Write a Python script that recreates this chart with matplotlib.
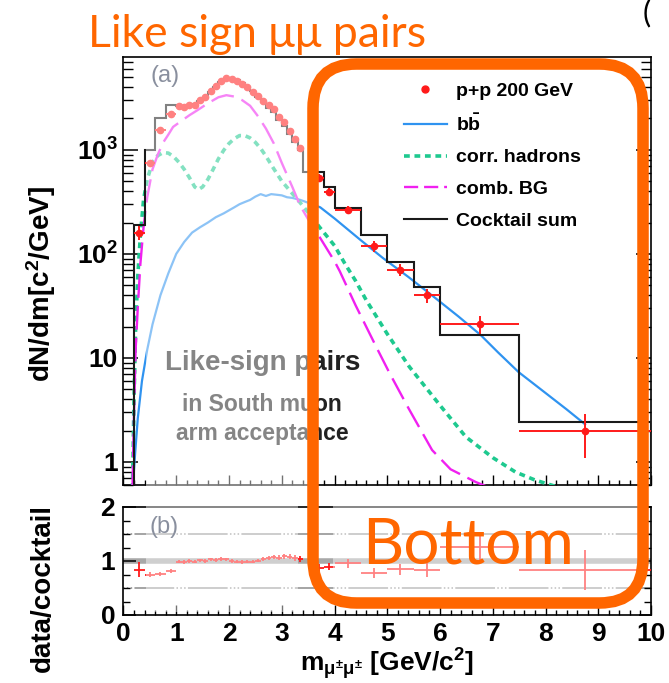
import matplotlib.pyplot as plt
import numpy as np
from matplotlib.lines import Line2D
from matplotlib.patches import Rectangle, FancyBboxPatch
from matplotlib.ticker import MultipleLocator, LogLocator, FuncFormatter, NullFormatter

plt.rcParams['font.family'] = 'Liberation Sans'
plt.rcParams['font.weight'] = 'bold'
plt.rcParams['axes.labelweight'] = 'bold'
plt.rcParams['mathtext.fontset'] = 'custom'
plt.rcParams['mathtext.rm'] = 'Liberation Sans:bold'
plt.rcParams['mathtext.it'] = 'Liberation Sans:bold'
plt.rcParams['mathtext.bf'] = 'Liberation Sans:bold'

# cocktail sum, dN/dm per mass bin
ck_edges = [0.2, 0.4, 0.6, 0.8, 1.0, 1.1, 1.2, 1.3, 1.4, 1.5, 1.6, 1.7, 1.8, 1.9, 2.0,
            2.1, 2.2, 2.3, 2.4, 2.5, 2.6, 2.7, 2.8, 2.9, 3.0, 3.1, 3.2, 3.3, 3.4,
            3.8, 4.0, 4.5, 5.0, 5.5, 6.0, 7.5, 10.0]
ck_vals = [190, 1000, 2040, 2700,
           2650, 2650, 2700, 2750, 2950, 3250, 3600, 4000, 4450, 4750, 4800, 4650,
           4400, 4050, 3650, 3250, 2850, 2550, 2300, 1950, 1700, 1420, 1200, 1000,
           615, 440, 277, 152, 83, 48, 16.6, 2.4]

# p+p 200 GeV like-sign data
data_m = [0.3, 0.5, 0.7, 0.9,
          1.05, 1.15, 1.25, 1.35, 1.45, 1.55, 1.65, 1.75, 1.85, 1.95, 2.05, 2.15,
          2.25, 2.35, 2.45, 2.55, 2.65, 2.75, 2.85, 2.95, 3.05, 3.15, 3.25, 3.35,
          3.7, 3.9, 4.25, 4.75, 5.25, 5.75, 6.75, 8.75]
data_y = [160, 750, 1550, 2200,
          2620, 2600, 2700, 2720, 2980, 3250, 3710, 4080, 4630, 4890, 4800, 4600,
          4310, 4010, 3610, 3280, 2940, 2680, 2460, 2070, 1850, 1530, 1270, 1030,
          540, 395, 265, 119, 70, 40, 21, 2.0]
data_xerr = [0.1, 0.1, 0.1, 0.1] + [0.05] * 24 + [0.1, 0.1, 0.25, 0.25, 0.25, 0.25, 0.75, 1.25]
data_yerr = [25, 40, 60, 80,
             90, 90, 95, 95, 100, 110, 120, 130, 140, 150, 150, 145,
             140, 130, 120, 110, 100, 95, 90, 80, 75, 65, 60, 55,
             40, 30, 22, 14, 9, 6, 4, 0.9]

# b-bbar
bb_m = [0.18, 0.22, 0.27, 0.35, 0.45, 0.55, 0.7, 0.85, 1.0, 1.15, 1.3, 1.45, 1.6, 1.75,
        1.9, 2.0, 2.1, 2.2, 2.3, 2.4, 2.5, 2.6, 2.7, 2.8, 2.9, 3.0, 3.1, 3.2, 3.35, 3.5,
        3.73, 4.0, 4.5, 4.92, 5.4, 5.9, 6.35, 6.77, 7.1, 7.49, 8.0, 8.4, 8.75]
bb_y = [0.6, 1.2, 2.6, 6, 12, 21, 40, 65, 100, 130, 160, 180, 200, 225,
        245, 262, 280, 300, 315, 330, 355, 375, 360, 375, 370, 365, 350, 345, 330, 310,
        280, 219, 135, 91, 60, 38, 25, 16.6, 11.3, 7.3, 4.6, 3.2, 2.3]

# correlated hadrons
had_m = [0.17, 0.2, 0.23, 0.27, 0.32, 0.38, 0.45, 0.55, 0.65, 0.75, 0.85, 0.95, 1.05,
         1.15, 1.25, 1.35, 1.42, 1.5, 1.6, 1.7, 1.8, 1.9, 2.0, 2.1, 2.2, 2.3, 2.4, 2.5,
         2.6, 2.7, 2.83, 3.0, 3.2, 3.35, 3.5, 3.7, 4.0, 4.2, 4.4, 4.6, 5.0, 5.42, 6.0,
         6.49, 7.0, 7.43, 7.8, 8.2]
had_y = [0.55, 4, 20, 60, 150, 330, 520, 760, 880, 940, 930, 860, 760,
         650, 540, 440, 415, 440, 520, 650, 820, 990, 1150, 1280, 1370, 1370, 1300, 1180,
         1030, 870, 680, 500, 380, 310, 250, 185, 120, 80, 55, 36, 17, 8.2, 3.5,
         1.74, 1.1, 0.8, 0.67, 0.58]

# combinatorial background
bg_m = [0.17, 0.2, 0.23, 0.27, 0.32, 0.38, 0.45, 0.55, 0.65, 0.75, 0.85, 0.94, 1.1,
        1.25, 1.4, 1.6, 1.8, 1.95, 2.1, 2.25, 2.4, 2.55, 2.7, 2.85, 3.0, 3.2, 3.35,
        3.5, 3.7, 4.0, 4.1, 4.4, 4.8, 5.04, 5.4, 5.85, 6.2, 6.68, 7.0]
bg_y = [0.55, 3, 12, 30, 80, 180, 350, 650, 900, 1170, 1400, 1660, 1900,
        2150, 2400, 2800, 3200, 3350, 3250, 3000, 2650, 2100, 1600, 1150, 750, 440, 290,
        215, 150, 85, 68, 32, 12.5, 7.2, 3.3, 1.3, 0.85, 0.64, 0.55]

red = '#ff1a1a'
blue = '#2f93f0'
teal = '#1ec98f'
magenta = '#f020f0'
orange = '#ff6600'

W, H = 669, 683
fig = plt.figure(figsize=(W / 100, H / 100), dpi=100)


def fx(x):
    return x / W


def fy(y):
    return 1 - y / H


ax = fig.add_axes([fx(123.5), fy(485), (651 - 123.5) / W, (485 - 57) / H])
axr = fig.add_axes([fx(123.5), fy(615), (651 - 123.5) / W, (615 - 507) / H])

# ---- (a) spectrum ----
ax.plot(bb_m, bb_y, color=blue, lw=1.6, zorder=3)
ax.plot(had_m, had_y, color=teal, lw=2.6, dashes=(1.6, 1.3), zorder=3)
ax.plot(bg_m, bg_y, color=magenta, lw=1.7, dashes=(10, 3.5), zorder=3)
ax.stairs(ck_vals, ck_edges, baseline=1e-3, color='#1a1a1a', lw=1.5, zorder=4)
ax.errorbar(data_m, data_y, xerr=data_xerr, yerr=data_yerr, fmt='o', ms=4.5,
            color=red, elinewidth=1.4, capsize=0, zorder=5)

ax.set_yscale('log')
ax.set_xlim(0, 10)
ax.set_ylim(0.6, 7800)


def ylab(v, pos):
    if v == 1:
        return '1'
    if v == 10:
        return '10'
    return r'$10^{%d}$' % round(np.log10(v))


ax.yaxis.set_major_locator(LogLocator(base=10, numticks=10))
ax.yaxis.set_minor_locator(LogLocator(base=10, subs=np.arange(2, 10), numticks=20))
ax.yaxis.set_major_formatter(FuncFormatter(ylab))
ax.yaxis.set_minor_formatter(NullFormatter())
ax.xaxis.set_major_locator(MultipleLocator(1))
ax.xaxis.set_minor_locator(MultipleLocator(0.2))
ax.xaxis.set_major_formatter(NullFormatter())
ax.tick_params(axis='y', which='both', direction='in', left=True, right=True, labelsize=19, pad=4)
ax.tick_params(axis='y', which='major', length=11, width=1.1)
ax.tick_params(axis='y', which='minor', length=7, width=1.0)
ax.tick_params(axis='x', which='both', direction='in', top=False, bottom=True)
ax.tick_params(axis='x', which='major', length=7, width=1.0)
ax.tick_params(axis='x', which='minor', length=3.5, width=1.0)
ax.set_ylabel(r'dN/dm[c$^{2}$/GeV]', fontsize=20)
ax.yaxis.set_label_coords(-0.125, 0.47)
for s in ax.spines.values():
    s.set_linewidth(1.2)

ax.text(0.079, 0.955, '(a)', transform=ax.transAxes, fontsize=17, fontweight='normal',
        color='#2a3550', ha='center', va='center')
ax.text(0.263, 0.285, 'Like-sign pairs', transform=ax.transAxes, fontsize=20,
        color='#222222', ha='center', va='center')
ax.text(0.263, 0.187, 'in South muon', transform=ax.transAxes, fontsize=16.5,
        color='#222222', ha='center', va='center')
ax.text(0.263, 0.121, 'arm acceptance', transform=ax.transAxes, fontsize=16.5,
        color='#222222', ha='center', va='center')

handles = [
    Line2D([], [], color=red, marker='o', ms=5, ls='none'),
    Line2D([], [], color=blue, lw=1.6),
    Line2D([], [], color=teal, lw=2.6, dashes=(1.6, 1.3)),
    Line2D([], [], color=magenta, lw=1.7, dashes=(6, 2.5)),
    Line2D([], [], color='#1a1a1a', lw=1.5),
]
labels = ['p+p 200 GeV', r'b$\bar{\mathrm{b}}$', 'corr. hadrons', 'comb. BG', 'Cocktail sum']
fig.legend(handles, labels, loc='upper left', bbox_to_anchor=(fx(404), fy(82)),
           frameon=False, fontsize=14, handlelength=2.2, handletextpad=0.45,
           labelspacing=0.72, borderpad=0, borderaxespad=0)

# ---- (b) data / cocktail ----
idx = np.searchsorted(ck_edges, data_m) - 1
ck_at = np.array(ck_vals)[idx]
ratio = np.array(data_y) / ck_at
ratio_err = np.array(data_yerr) / ck_at

axr.axhline(1, color='#a8a8a8', lw=4, zorder=1)
for lev in (0.5, 1.5):
    axr.axhline(lev, color='#8c8c8c', lw=1.1,
                dashes=(1, 1.5, 1, 1.5, 1, 1.5, 26, 1.5), zorder=1)
axr.errorbar(data_m, ratio, xerr=data_xerr, yerr=ratio_err, fmt='none',
             ecolor=red, elinewidth=1.3, capsize=0, zorder=3)
axr.set_xlim(0, 10)
axr.set_ylim(0, 2)
axr.xaxis.set_major_locator(MultipleLocator(1))
axr.xaxis.set_minor_locator(MultipleLocator(0.2))
axr.yaxis.set_major_locator(MultipleLocator(1))
axr.yaxis.set_minor_locator(MultipleLocator(0.25))
axr.tick_params(axis='both', which='both', direction='in', left=True, right=True,
                top=False, bottom=True, labelsize=19)
axr.tick_params(axis='y', which='major', length=9, width=1.1, pad=6)
axr.tick_params(axis='y', which='minor', length=5, width=1.0)
axr.tick_params(axis='x', which='major', length=7, width=1.0, pad=5)
axr.tick_params(axis='x', which='minor', length=3.5, width=1.0)
axr.set_ylabel('data/cocktail', fontsize=20)
axr.yaxis.set_label_coords(-0.128, 0.25)
axr.set_xlabel(r'm$_{\mathrm{μ^{±}μ^{±}}}$ [GeV/c$^{2}$]', fontsize=19, labelpad=0)
for s in axr.spines.values():
    s.set_linewidth(1.2)
axr.text(0.077, 0.815, '(b)', transform=axr.transAxes, fontsize=17, fontweight='normal',
         color='#2a3550', ha='center', va='center')

# washed-out regions around the highlight box
for x0, y0, x1, y1 in [(146, 58, 308, 490), (146, 490, 298, 612), (333, 490, 640, 600)]:
    fig.patches.append(Rectangle((fx(x0), fy(y1)), (x1 - x0) / W, (y1 - y0) / H,
                                 transform=fig.transFigure, facecolor='white',
                                 edgecolor='none', alpha=0.45, zorder=5))

# highlight box and annotations
fig.patches.append(FancyBboxPatch((fx(313), fy(603)), (643 - 313) / W, (603 - 64) / H,
                                  boxstyle='round,pad=0,rounding_size=0.065',
                                  transform=fig.transFigure, facecolor='none',
                                  edgecolor=orange, lw=8.3, zorder=6))
fig.text(fx(468), fy(564), 'Bottom', fontsize=46, family='Lato', fontweight='normal',
         color=orange, ha='center', va='baseline', zorder=7)
fig.text(fx(88), fy(47), 'Like sign μμ pairs', fontsize=32, family='Lato',
         fontweight='normal', color=orange, ha='left', va='baseline', zorder=7)
fig.text(fx(643), fy(-1), '(', fontsize=22, family='Lato', fontweight='normal',
         color='black', ha='left', va='top', zorder=7)

fig.savefig('out.png', dpi=100)
